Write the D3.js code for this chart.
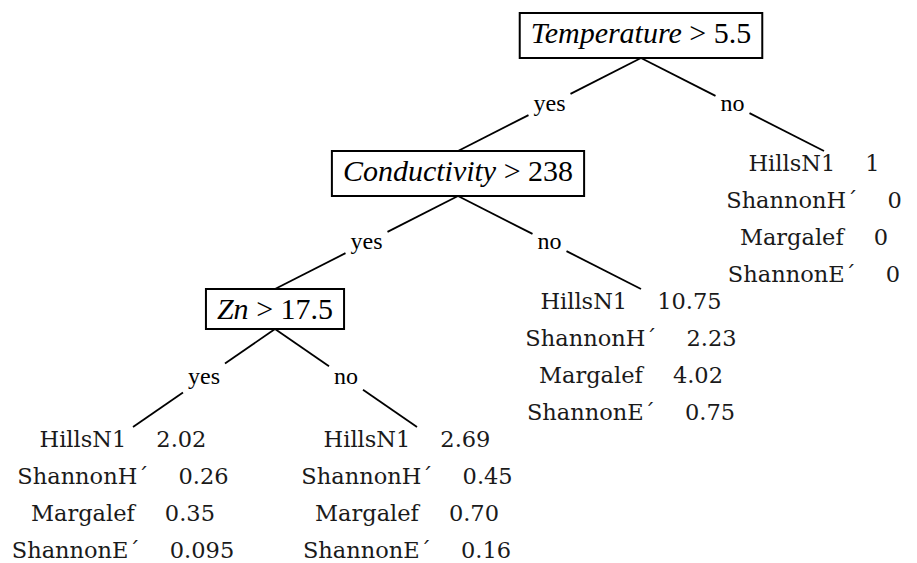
<!DOCTYPE html>
<html><head><meta charset="utf-8">
<script src="https://cdn.jsdelivr.net/npm/d3@7"></script>
<style>html,body{margin:0;padding:0;background:#fff;} svg{display:block}</style>
</head><body>
<svg id="chart" width="917" height="563"></svg>
<script>
// ---- data ----
const splitVariables = ["Temperature", "Conductivity", "Zn"];
const splitThresholds = ["5.5", "238", "17.5"];
const branchLabels = ["yes", "no"];
const indexNames = ["HillsN1", "ShannonH\u00B4", "Margalef", "ShannonE\u00B4"];
// leaves in order: Zn yes, Zn no, Conductivity no, Temperature no
const hillsN1 = ["2.02", "2.69", "10.75", "1"];
const shannonH = ["0.26", "0.45", "2.23", "0"];
const margalef = ["0.35", "0.70", "4.02", "0"];
const shannonE = ["0.095", "0.16", "0.75", "0"];

function leaf(i) { return { leaf: true, values: [hillsN1[i], shannonH[i], margalef[i], shannonE[i]] }; }
function split(k, children) { return { v: splitVariables[k], t: splitThresholds[k], children }; }
const treeData = split(0, [split(1, [split(2, [leaf(0), leaf(1)]), leaf(2)]), leaf(3)]);

// ---- layout ----
const root = d3.hierarchy(treeData);
const spread = [1, 1, 0.776];
root.u = 0;
root.each(n => {
  if (n.children) n.children.forEach((c, i) => { c.u = n.u + (i === 0 ? -1 : 1) * spread[n.depth]; });
});
const x = d3.scaleLinear().domain([0, 1]).range([641, 824]);
const y = d3.scaleLinear().domain([0, 3]).range([13, 427]);

const svg = d3.select("#chart");
const gEdges = svg.append("g");
const gNodes = svg.append("g");

// ---- split nodes ----
const internal = root.descendants().filter(d => d.children);
internal.forEach(d => {
  const g = gNodes.append("g");
  const cx = x(d.u), top = y(d.depth);
  const txt = g.append("text")
    .attr("x", cx).attr("y", top + 30)
    .attr("text-anchor", "middle")
    .style("font-family", "'Liberation Serif', 'Times New Roman', serif")
    .style("font-size", "30px")
    .attr("fill", "#000");
  txt.append("tspan").style("font-style", "italic").text(d.data.v);
  txt.append("tspan").text(" > " + d.data.t);
  const w = txt.node().getComputedTextLength();
  const h = /[gjpqy]/.test(d.data.v) ? 45 : 40;
  d.boxBottom = top + h;
  g.insert("rect", "text")
    .attr("x", cx - w / 2 - 11).attr("y", top)
    .attr("width", w + 22).attr("height", h)
    .attr("fill", "#fff").attr("stroke", "#000").attr("stroke-width", 2);
});

// ---- edges with labels ----
root.links().forEach(l => {
  const p = l.source, c = l.target;
  const x0 = x(p.u), y0 = p.boxBottom, x1 = x(c.u), y1 = y(c.depth);
  const mx = (x0 + x1) / 2, my = (y0 + y1) / 2;
  const idx = p.children.indexOf(c);
  const lab = gEdges.append("text")
    .attr("x", mx).attr("y", my + 6)
    .attr("text-anchor", "middle")
    .style("font-family", "'Liberation Serif', 'Times New Roman', serif")
    .style("font-size", "24px")
    .attr("fill", "#000")
    .text(branchLabels[idx]);
  const w = lab.node().getComputedTextLength();
  const gapT = (w / 2 + 5) / Math.abs(x1 - x0);
  const pt = t => [x0 + (x1 - x0) * t, y0 + (y1 - y0) * t];
  [[0, 0.5 - gapT], [0.5 + gapT, 1]].forEach(([a, b]) => {
    const A = pt(a), B = pt(b);
    gEdges.append("line")
      .attr("x1", A[0]).attr("y1", A[1]).attr("x2", B[0]).attr("y2", B[1])
      .attr("stroke", "#000").attr("stroke-width", 1.8);
  });
});

// ---- leaves ----
root.leaves().forEach(d => {
  const cx = x(d.u) - 10, top = y(d.depth);
  d.data.values.forEach((val, i) => {
    const t = gNodes.append("text")
      .attr("x", cx).attr("y", top + 20 + i * 37)
      .attr("text-anchor", "middle")
      .style("font-family", "'DejaVu Serif', serif")
      .style("font-size", "22.5px")
      .attr("fill", "#1a1a1a");
    t.append("tspan").text(indexNames[i]);
    t.append("tspan").attr("dx", 30).text(val);
  });
});
</script>
</body></html>
